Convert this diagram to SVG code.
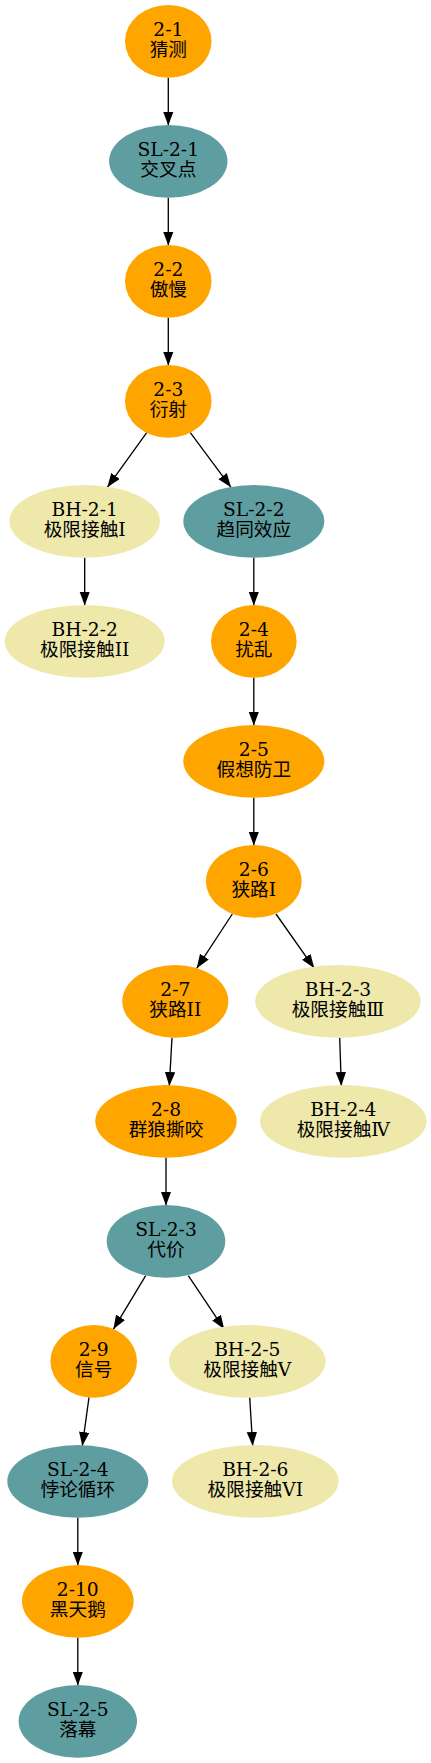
<svg xmlns="http://www.w3.org/2000/svg" width="431" height="1763" viewBox="0 0 431 1763">
<style>
.or{fill:#FFA500}
.cb{fill:#5F9EA0}
.pg{fill:#EEE8AA}
text{font-family:"DejaVu Serif","Noto Sans CJK SC",serif;font-size:18.67px;fill:#000;text-anchor:middle}
.e line{stroke:#000;stroke-width:1.33;fill:none;marker-end:url(#ah)}
</style>
<defs>
<marker id="ah" markerUnits="userSpaceOnUse" markerWidth="15" markerHeight="11" refX="14" refY="5.2" orient="auto">
<path d="M0,0 L14,5.2 L0,10.4 z" fill="#000"/>
</marker>
</defs>
<rect width="431" height="1763" fill="#fff"/>
<g id="edges" class="e">
<line x1="168.3" y1="77.7" x2="168.3" y2="125.5"/>
<line x1="168.3" y1="197.7" x2="168.3" y2="245.5"/>
<line x1="168.3" y1="317.7" x2="168.3" y2="365.5"/>
<line x1="146.7" y1="432.7" x2="107.3" y2="487.3"/>
<line x1="190.3" y1="432.7" x2="231" y2="487.3"/>
<line x1="84.7" y1="557.7" x2="84.7" y2="605.5"/>
<line x1="253.8" y1="557.7" x2="253.8" y2="605.5"/>
<line x1="253.8" y1="677.7" x2="253.8" y2="725.5"/>
<line x1="253.8" y1="797.7" x2="253.8" y2="845.5"/>
<line x1="232.3" y1="914" x2="196.7" y2="968.3"/>
<line x1="276" y1="914" x2="314.3" y2="968.3"/>
<line x1="172" y1="1037.7" x2="169.3" y2="1086"/>
<line x1="339.7" y1="1037.7" x2="341.3" y2="1086"/>
<line x1="166" y1="1157.7" x2="166" y2="1205.5"/>
<line x1="145.7" y1="1275.7" x2="113.3" y2="1329.3"/>
<line x1="188.3" y1="1275.7" x2="224.3" y2="1329.3"/>
<line x1="89" y1="1397.3" x2="82.3" y2="1446"/>
<line x1="249.7" y1="1397.3" x2="252.7" y2="1446"/>
<line x1="77.8" y1="1517.7" x2="77.8" y2="1565.5"/>
<line x1="77.8" y1="1637.7" x2="77.8" y2="1685.5"/>
</g>
<g id="n2-1"><ellipse class="or" cx="168.3" cy="41.3" rx="43.3" ry="36.4"/><text x="168.3" y="35.7">2-1</text><text x="168.3" y="55.9">猜测</text></g>
<g id="SL-2-1"><ellipse class="cb" cx="168.3" cy="161.3" rx="59.2" ry="36.4"/><text x="168.3" y="155.7">SL-2-1</text><text x="168.3" y="175.9">交叉点</text></g>
<g id="n2-2"><ellipse class="or" cx="168.3" cy="281.3" rx="43.3" ry="36.4"/><text x="168.3" y="275.7">2-2</text><text x="168.3" y="295.9">傲慢</text></g>
<g id="n2-3"><ellipse class="or" cx="168.3" cy="401.3" rx="43.3" ry="36.4"/><text x="168.3" y="395.7">2-3</text><text x="168.3" y="415.9">衍射</text></g>
<g id="BH-2-1"><ellipse class="pg" cx="84.7" cy="521.3" rx="75.3" ry="36.4"/><text x="84.7" y="515.7">BH-2-1</text><text x="84.7" y="535.9">极限接触I</text></g>
<g id="SL-2-2"><ellipse class="cb" cx="253.8" cy="521.3" rx="70.5" ry="36.4"/><text x="253.8" y="515.7">SL-2-2</text><text x="253.8" y="535.9">趋同效应</text></g>
<g id="BH-2-2"><ellipse class="pg" cx="84.7" cy="641.3" rx="80" ry="36.4"/><text x="84.7" y="635.7">BH-2-2</text><text x="84.7" y="655.9">极限接触II</text></g>
<g id="n2-4"><ellipse class="or" cx="253.8" cy="641.3" rx="42.8" ry="36.4"/><text x="253.8" y="635.7">2-4</text><text x="253.8" y="655.9">扰乱</text></g>
<g id="n2-5"><ellipse class="or" cx="253.8" cy="761.3" rx="70.5" ry="36.4"/><text x="253.8" y="755.7">2-5</text><text x="253.8" y="775.9">假想防卫</text></g>
<g id="n2-6"><ellipse class="or" cx="253.8" cy="881.3" rx="47.8" ry="36.4"/><text x="253.8" y="875.7">2-6</text><text x="253.8" y="895.9">狭路I</text></g>
<g id="n2-7"><ellipse class="or" cx="175.3" cy="1001.3" rx="53" ry="36.4"/><text x="175.3" y="995.7">2-7</text><text x="175.3" y="1015.9">狭路II</text></g>
<g id="BH-2-3"><ellipse class="pg" cx="338" cy="1001.3" rx="82.7" ry="36.4"/><text x="338" y="995.7">BH-2-3</text><text x="338" y="1015.9">极限接触Ⅲ</text></g>
<g id="n2-8"><ellipse class="or" cx="166" cy="1121.3" rx="70.7" ry="36.4"/><text x="166" y="1115.7">2-8</text><text x="166" y="1135.9">群狼撕咬</text></g>
<g id="BH-2-4"><ellipse class="pg" cx="343.3" cy="1121.3" rx="83.3" ry="36.4"/><text x="343.3" y="1115.7">BH-2-4</text><text x="343.3" y="1135.9">极限接触Ⅳ</text></g>
<g id="SL-2-3"><ellipse class="cb" cx="166" cy="1241.3" rx="59.3" ry="36.4"/><text x="166" y="1235.7">SL-2-3</text><text x="166" y="1255.9">代价</text></g>
<g id="n2-9"><ellipse class="or" cx="93.7" cy="1361.3" rx="43.3" ry="36.4"/><text x="93.7" y="1355.7">2-9</text><text x="93.7" y="1375.9">信号</text></g>
<g id="BH-2-5"><ellipse class="pg" cx="247.3" cy="1361.3" rx="78.3" ry="36.4"/><text x="247.3" y="1355.7">BH-2-5</text><text x="247.3" y="1375.9">极限接触V</text></g>
<g id="SL-2-4"><ellipse class="cb" cx="77.8" cy="1481.3" rx="70.5" ry="36.4"/><text x="77.8" y="1475.7">SL-2-4</text><text x="77.8" y="1495.9">悖论循环</text></g>
<g id="BH-2-6"><ellipse class="pg" cx="255.3" cy="1481.3" rx="83.3" ry="36.4"/><text x="255.3" y="1475.7">BH-2-6</text><text x="255.3" y="1495.9">极限接触VI</text></g>
<g id="n2-10"><ellipse class="or" cx="77.8" cy="1601.3" rx="55.8" ry="36.4"/><text x="77.8" y="1595.7">2-10</text><text x="77.8" y="1615.9">黑天鹅</text></g>
<g id="SL-2-5"><ellipse class="cb" cx="77.8" cy="1721.3" rx="59.2" ry="36.4"/><text x="77.8" y="1715.7">SL-2-5</text><text x="77.8" y="1735.9">落幕</text></g>
</svg>
